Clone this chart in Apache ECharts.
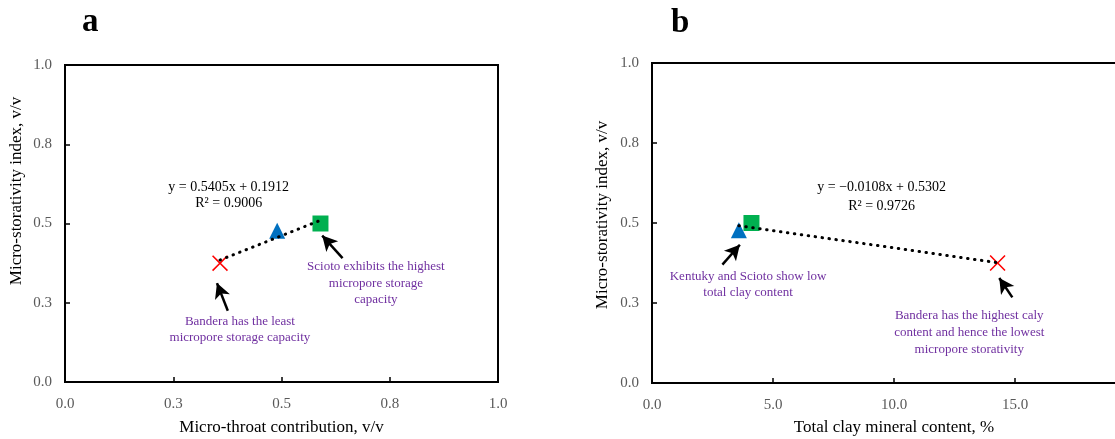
<!DOCTYPE html>
<html>
<head>
<meta charset="utf-8">
<script src="https://cdn.jsdelivr.net/npm/echarts@6/dist/echarts.min.js"></script>
<style>
  html, body { margin: 0; padding: 0; background: #fff; }
  #chart { width: 1115px; height: 439px; }
</style>
</head>
<body>
<div id="chart"></div>
<script>
// samples (same order in every array)
var samples = ['Bandera', 'Kentucky', 'Scioto'];
var microThroat = [0.358, 0.49, 0.59];      // panel a x, v/v
var clayContent = [14.28, 3.59, 4.11];      // panel b x, %
var storativity = [0.375, 0.477, 0.50];     // y in both panels, v/v
// linear fits: [slope, intercept]
var fitA = [0.5405, 0.1912];
var fitB = [-0.0108, 0.5302];
// tick labels as printed
var ratioTicks = ['0.0', '0.3', '0.5', '0.8', '1.0'];
var clayTicks = ['0.0', '5.0', '10.0', '15.0', '20.0'];

(function () {
  var myChart = echarts.init(document.getElementById('chart'));
  var serif = '"Liberation Serif", "Times New Roman", serif';
  var purple = '#7030A0';
  var xMark = 'path://M0,0.7L0.7,0L5,4.3L9.3,0L10,0.7L5.7,5L10,9.3L9.3,10L5,5.7L0.7,10L0,9.3L4.3,5Z';
  var symbols = [xMark, 'triangle', 'rect'];
  var colors = ['#FF0000', '#0070C0', '#00B050'];

  function axisCommon(ticks, margin) {
    return {
      axisLine: { show: true, onZero: false, lineStyle: { color: '#000', width: 2 } },
      axisTick: { show: true, inside: true, length: 5, lineStyle: { color: '#000', width: 1.5 } },
      splitLine: { show: false },
      axisLabel: {
        color: '#595959', fontFamily: serif, fontSize: 15, margin: margin,
        formatter: function (v, i) { return ticks[i]; }
      }
    };
  }

  // trend line drawn across the data range from the printed fit
  function trend(xs, fit) {
    var lo = Math.min.apply(null, xs), hi = Math.max.apply(null, xs);
    return [[lo, fit[0] * lo + fit[1]], [hi, fit[0] * hi + fit[1]]];
  }

  function arrow(tail, head) {
    return [{ coord: tail }, { coord: head }];
  }

  function note(coord, text, color, size, lh) {
    return {
      coord: coord,
      symbolSize: 0,
      label: {
        show: true, position: 'inside', formatter: text, color: color,
        fontFamily: serif, fontSize: size, lineHeight: lh, align: 'center'
      }
    };
  }

  var series = [];
  [microThroat, clayContent].forEach(function (xs, p) {
    samples.forEach(function (name, i) {
      series.push({
        name: name,
        type: 'scatter',
        xAxisIndex: p, yAxisIndex: p,
        data: [[xs[i], storativity[i]]],
        symbol: symbols[i],
        symbolSize: 16,
        itemStyle: { color: colors[i], opacity: 1 },
        z: 3
      });
    });
  });

  var dotted = { color: '#000', width: 3, type: [0.5, 6.5], cap: 'round' };
  var arrowLine = {
    silent: true, symbol: ['none', 'arrow'], symbolSize: [12, 15],
    label: { show: false },
    lineStyle: { color: '#000', width: 2.5, type: 'solid' }
  };

  // panel a fit + notes
  series.push({
    type: 'line',
    xAxisIndex: 0, yAxisIndex: 0,
    data: trend(microThroat, fitA),
    showSymbol: false, symbol: 'none',
    lineStyle: dotted,
    z: 5,
    silent: true,
    markLine: Object.assign({
      data: [arrow([0.376, 0.225], [0.351, 0.312]), arrow([0.641, 0.391], [0.594, 0.462])]
    }, arrowLine),
    markPoint: {
      silent: true,
      data: [
        note([0.378, 0.588], 'y = 0.5405x + 0.1912\nR² = 0.9006', '#000', 14, 16),
        note([0.404, 0.166], 'Bandera has the least\nmicropore storage capacity', purple, 13, 16),
        note([0.718, 0.312], 'Scioto exhibits the highest\nmicropore storage\ncapacity', purple, 13, 16.5)
      ]
    }
  });

  // panel b fit + notes
  series.push({
    type: 'line',
    xAxisIndex: 1, yAxisIndex: 1,
    data: trend(clayContent, fitB),
    showSymbol: false, symbol: 'none',
    lineStyle: dotted,
    z: 5,
    silent: true,
    markLine: Object.assign({
      data: [arrow([2.91, 0.37], [3.63, 0.432]), arrow([14.89, 0.2675], [14.35, 0.328])]
    }, arrowLine),
    markPoint: {
      silent: true,
      data: [
        note([9.49, 0.582], 'y = \u22120.0108x + 0.5302\nR² = 0.9726', '#000', 14, 19),
        note([3.97, 0.307], 'Kentuky and Scioto show low\ntotal clay content', purple, 13, 16.5),
        note([13.11, 0.159], 'Bandera has the highest caly\ncontent and hence the lowest\nmicropore storativity', purple, 13, 17)
      ]
    }
  });

  var option = {
    backgroundColor: '#fff',
    animation: false,
    textStyle: { fontFamily: serif },
    grid: [
      { left: 65, right: 617, top: 65, bottom: 57, outerBoundsMode: 'none', containLabel: false,
        show: true, borderColor: '#000', borderWidth: 2, backgroundColor: 'transparent' },
      { left: 652, right: -21, top: 63, bottom: 56, outerBoundsMode: 'none', containLabel: false,
        show: true, borderColor: '#000', borderWidth: 2, backgroundColor: 'transparent' }
    ],
    xAxis: [
      Object.assign({
        type: 'value', gridIndex: 0, min: 0, max: 1, interval: 0.25,
        name: 'Micro-throat contribution, v/v', nameLocation: 'middle', nameGap: 37,
        nameTextStyle: { color: '#000', fontFamily: serif, fontSize: 17 }
      }, axisCommon(ratioTicks, 15)),
      Object.assign({
        type: 'value', gridIndex: 1, min: 0, max: 20, interval: 5,
        name: 'Total clay mineral content, %', nameLocation: 'middle', nameGap: 36,
        nameTextStyle: { color: '#000', fontFamily: serif, fontSize: 17 }
      }, axisCommon(clayTicks, 15))
    ],
    yAxis: [
      Object.assign({ type: 'value', gridIndex: 0, min: 0, max: 1, interval: 0.25 }, axisCommon(ratioTicks, 13)),
      Object.assign({ type: 'value', gridIndex: 1, min: 0, max: 1, interval: 0.25 }, axisCommon(ratioTicks, 13))
    ],
    graphic: [
      { type: 'text', left: 82, top: 6, style: { text: 'a', font: 'bold 33px ' + serif, fill: '#000' } },
      { type: 'text', left: 671, top: 7, style: { text: 'b', font: 'bold 33px ' + serif, fill: '#000' } },
      { type: 'text', x: 17, y: 191, rotation: Math.PI / 2,
        style: { text: 'Micro-storativity index, v/v', font: '17px ' + serif, fill: '#000', align: 'center', verticalAlign: 'middle' } },
      { type: 'text', x: 603, y: 215, rotation: Math.PI / 2,
        style: { text: 'Micro-storativity index, v/v', font: '17px ' + serif, fill: '#000', align: 'center', verticalAlign: 'middle' } }
    ],
    series: series
  };

  myChart.setOption(option);
  window.addEventListener('resize', function () {
    myChart.resize();
  });
})();
</script>
</body>
</html>
